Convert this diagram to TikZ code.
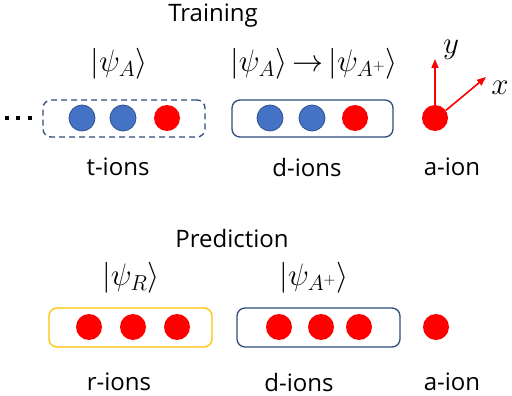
\RequirePackage{fix-cm}
\documentclass[tikz,border=0pt]{standalone}
\usepackage{amsmath,amssymb}
\usepackage{fontspec}
\setmainfont{Open Sans}
\usetikzlibrary{positioning,arrows.meta}
\definecolor{ionblue}{HTML}{4472C4}
\definecolor{ionblueedge}{HTML}{2F528F}
\definecolor{ionred}{HTML}{FF0000}
\definecolor{trapblue}{HTML}{2F4B7C}
\definecolor{trapyellow}{HTML}{FFC000}

\begin{document}
\begin{tikzpicture}[
  x=1pt, y=-1pt,
  ion/.style={circle, minimum size=26pt, inner sep=0pt},
  bion/.style={ion, fill=ionblue, draw=ionblueedge, line width=0.8pt},
  rion/.style={ion, fill=ionred},
  trap/.style={rounded corners=8pt, line width=1.3pt, minimum height=37pt, inner sep=0pt},
  lbl/.style={font=\fontsize{24}{28}\selectfont, inner sep=1pt},
  ket/.style={font=\fontsize{31}{36}\selectfont, inner sep=1pt},
  axis/.style={-{Triangle[length=9pt,width=7pt]}, draw=ionred, line width=1.6pt},
]
\useasboundingbox (0,0) rectangle (512,396);

% training
\node[lbl] (train) at (213,16) {Training};
\node[ket] (kettA) at (119,64) {$|\psi_A\rangle$};
\node[ket] (ketdA) at (314,64) {$|\psi_A\rangle\mskip3mu{\rightarrow}\mskip3mu|\psi_{A^+}\rangle$};
\node[trap, draw=trapblue, dashed, dash pattern=on 6pt off 4pt, minimum width=162pt] (tbox) at (124,118.5) {};
\node[trap, draw=trapblue, minimum width=161pt] (dbox) at (312.5,118.5) {};
\node[bion] (t1) at (82,118) {};
\node[bion] (t2) at (123,118) {};
\node[rion] (t3) at (167,118) {};
\node[bion] (d1) at (270,118) {};
\node[bion] (d2) at (312,118) {};
\node[rion] (d3) at (355,118) {};
\node[rion] (aion) at (435,118) {};
\foreach \i in {7,18,30}
  \fill (\i-2.3,115.7) rectangle +(4.6,4.6);
\coordinate (ytip) at (435,59);
\coordinate (xtip) at (486,77);
\draw[axis] (aion.north) -- (ytip);
\draw[axis] (aion.35) -- (xtip);
\node[ket] (ylbl) at (451,50) {$y$};
\node[ket] (xlbl) at (500,88) {$x$};
\node[lbl] (tlbl) at (118,167) {t-ions};
\node[lbl] (dlbl) at (307,167) {d-ions};
\node[lbl] (albl) at (452,167) {a-ion};

% prediction
\node[lbl] (pred) at (232,238) {Prediction};
\node[ket] (ketR) at (131,278) {$|\psi_R\rangle$};
\node[ket] (ketAp) at (314,278) {$|\psi_{A^+}\rangle$};
\node[trap, draw=trapyellow, minimum width=163pt, minimum height=39pt] (rbox) at (130.5,327.5) {};
\node[trap, draw=trapblue, minimum width=163pt, minimum height=39pt] (pbox) at (318.5,327.5) {};
\node[rion] (r1) at (89,327) {};
\node[rion] (r2) at (133,327) {};
\node[rion] (r3) at (177,327) {};
\node[rion] (p1) at (279,327) {};
\node[rion] (p2) at (321,327) {};
\node[rion] (p3) at (359,327) {};
\node[rion] (aion2) at (436,327) {};
\node[lbl] (rlbl) at (119,382) {r-ions};
\node[lbl] (plbl) at (299,382) {d-ions};
\node[lbl] (albl2) at (452,382) {a-ion};
\end{tikzpicture}
\end{document}
